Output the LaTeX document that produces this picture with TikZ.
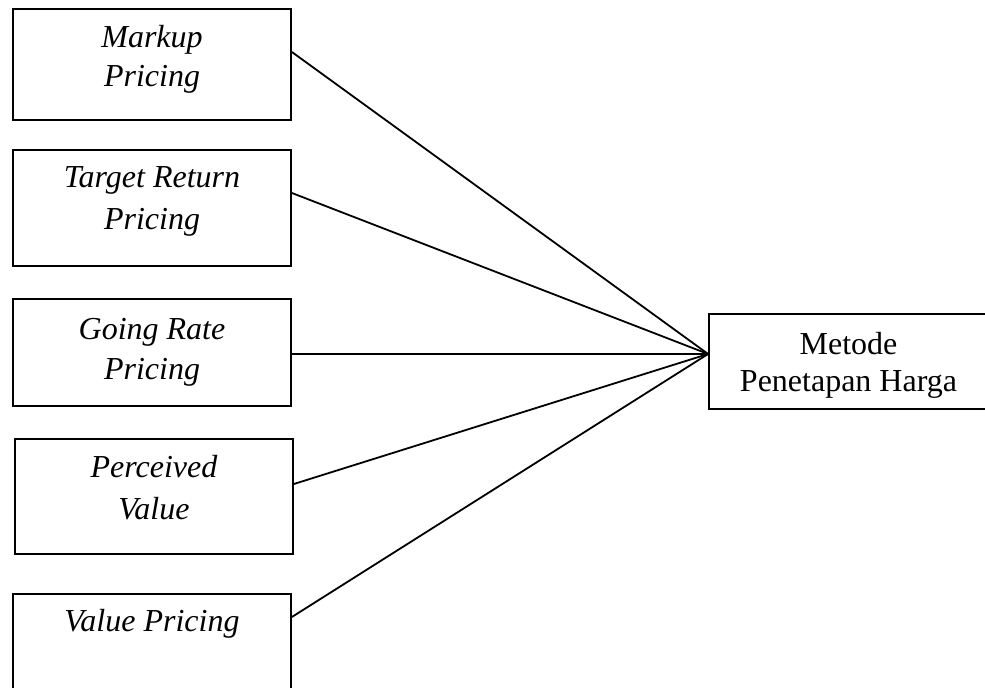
\documentclass[tikz,border=0pt]{standalone}
\usepackage{fontspec}
\setmainfont{Liberation Serif}
\begin{document}
\begin{tikzpicture}[x=0.5pt,y=-0.5pt,
  box/.style={draw, line width=0.9pt, rectangle, inner sep=0pt, minimum width=139pt},
  lbl/.style={anchor=base, inner sep=0pt, font=\fontsize{16}{18.5}\selectfont\itshape},
  rlbl/.style={anchor=base, inner sep=0pt, font=\fontsize{16}{18.5}\selectfont},
  conn/.style={line width=0.9pt}]
\useasboundingbox (0,0) rectangle (985,688);
\clip (0,0) rectangle (985,688);
% boxes
\node[box, minimum height=55.5pt] (b1) at (152,64.5) {};
\node[box, minimum height=58pt] (b2) at (152,208) {};
\node[box, minimum height=53.5pt] (b3) at (152,352.5) {};
\node[box, minimum height=57.5pt] (b4) at (154,496.5) {};
\node[box, minimum height=53pt] (b5) at (152,647) {};
\node[box, minimum width=140.5pt, minimum height=47.5pt] (m) at (849.5,361.5) {};
% labels
\node[lbl] (t1a) at (152,48) {Markup};
\node[lbl] (t1b) at (152,87) {Pricing};
\node[lbl] (t2a) at (152,188) {Target Return};
\node[lbl] (t2b) at (152,230) {Pricing};
\node[lbl] (t3a) at (152,340) {Going Rate};
\node[lbl] (t3b) at (152,380) {Pricing};
\node[lbl] (t4a) at (154,478) {Perceived};
\node[lbl] (t4b) at (154,520) {Value};
\node[lbl] (t5a) at (152,632) {Value Pricing};
\node[rlbl] (ma) at (848.5,355) {Metode};
\node[rlbl] (mb) at (848.5,392) {Penetapan Harga};
% connector ends
\coordinate (hub) at (m.west |- 0,354);
\coordinate (s1) at (b1.east |- 0,52);
\coordinate (s2) at (b2.east |- 0,193);
\coordinate (s3) at (b3.east |- 0,354);
\coordinate (s4) at (b4.east |- 0,484);
\coordinate (s5) at (b5.east |- 0,617);
\draw[conn] (s1) -- (hub);
\draw[conn] (s2) -- (hub);
\draw[conn] (s3) -- (hub);
\draw[conn] (s4) -- (hub);
\draw[conn] (s5) -- (hub);
\end{tikzpicture}
\end{document}
